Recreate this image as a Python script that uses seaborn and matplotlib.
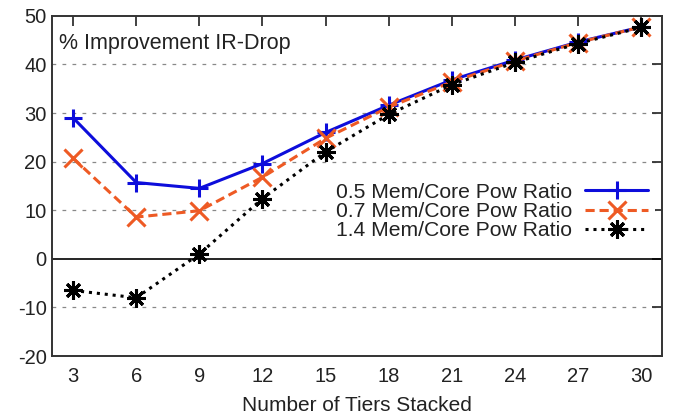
import matplotlib
matplotlib.use("Agg")
import matplotlib.pyplot as plt
import seaborn as sns
import pandas as pd

tiers = [3, 6, 9, 12, 15, 18, 21, 24, 27, 30]
ratio_05 = [29.0, 15.7, 14.5, 19.6, 26.0, 31.6, 36.8, 40.9, 44.6, 47.7]
ratio_07 = [20.7, 8.6, 9.9, 16.8, 24.8, 31.2, 36.4, 40.7, 44.5, 47.7]
ratio_14 = [-6.5, -8.0, 1.0, 12.4, 22.0, 29.7, 35.8, 40.4, 44.3, 47.6]
labels = ["0.5 Mem/Core Pow Ratio", "0.7 Mem/Core Pow Ratio", "1.4 Mem/Core Pow Ratio"]
y_ticks = [-20, -10, 0, 10, 20, 30, 40, 50]

df = pd.DataFrame({
    "tiers": tiers * 3,
    "value": ratio_05 + ratio_07 + ratio_14,
    "series": [labels[0]] * len(tiers) + [labels[1]] * len(tiers) + [labels[2]] * len(tiers),
})

sns.set_theme(style="white")
plt.rcParams["font.family"] = ["Liberation Sans", "DejaVu Sans"]
plt.rcParams["axes.unicode_minus"] = False

colors = {labels[0]: "#0d0ddb", labels[1]: "#ee5a24", labels[2]: "#000000"}
dashes = {labels[0]: "", labels[1]: (3, 1.6), labels[2]: (1, 1.6)}
markers = {labels[0]: "+", labels[1]: "x", labels[2]: (8, 2, 0)}

fig = plt.figure(figsize=(6.77, 4.16), dpi=100)
ax = fig.add_axes([0.077, 0.144, 0.901, 0.818])

ax.axhline(0, color="black", lw=1.2, zorder=1)
sns.lineplot(data=df, x="tiers", y="value", hue="series", style="series",
             palette=colors, dashes=dashes, markers=markers, hue_order=labels,
             style_order=labels, ax=ax, legend=False, linewidth=2.2,
             markersize=13, markeredgewidth=2.2, zorder=3)

lines = [l for l in ax.get_lines() if len(l.get_xdata()) == len(tiers)]
for l in lines:
    l.set_markeredgecolor(l.get_color())
    l.set_markerfacecolor(l.get_color())

ax.set_xlim(2, 31)
ax.set_ylim(-20, 50)
ax.set_xticks(tiers)
ax.set_yticks(y_ticks)
ax.tick_params(axis="both", direction="in", length=7, width=1.3, labelsize=14.5,
               top=True, right=True, colors="#333333")
ax.tick_params(axis="x", pad=8)
ax.tick_params(axis="y", pad=4)
for t in ax.get_xticklabels() + ax.get_yticklabels():
    t.set_color("#222222")
for s in ax.spines.values():
    s.set_color("#333333")
    s.set_linewidth(1.4)

for yv in y_ticks:
    if yv not in (-20, 0, 50):
        ax.axhline(yv, color="#888888", lw=0.9, ls=(0, (3, 5)), zorder=0)

ax.set_xlabel("Number of Tiers Stacked", fontsize=15, color="#222222", labelpad=7)
ax.set_ylabel("")
ax.text(0.012, 0.92, "% Improvement IR-Drop", transform=ax.transAxes,
        fontsize=15.5, color="#222222", va="center", ha="left")

leg = ax.legend(lines, labels, loc="center right", bbox_to_anchor=(1.005, 0.425),
                markerfirst=False, fontsize=15.2, frameon=True, framealpha=1,
                facecolor="white", edgecolor="none", labelspacing=0.02,
                handlelength=3.0, handletextpad=0.6, borderpad=0.3, fancybox=False)
for t in leg.get_texts():
    t.set_color("#222222")
leg.set_zorder(5)

fig.savefig("out.png", dpi=100)
